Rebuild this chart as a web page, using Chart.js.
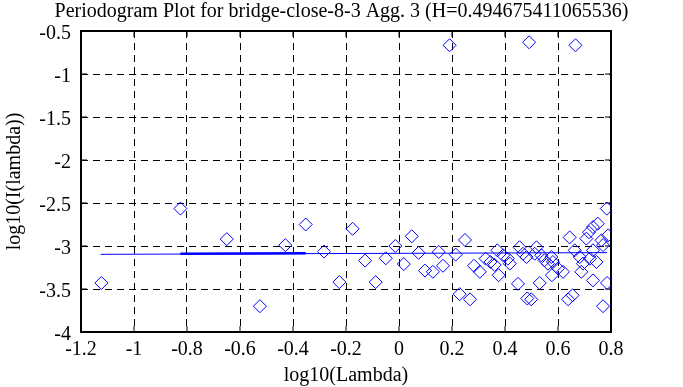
<!DOCTYPE html>
<html>
<head>
<meta charset="utf-8">
<script src="https://cdn.jsdelivr.net/npm/chart.js@4/dist/chart.umd.min.js"></script>
<style>
  body { margin: 0; background: #fff; }
  canvas { display: block; }
</style>
</head>
<body>
<canvas id="periodogramChart" width="683" height="387"></canvas>
<script>
// periodogram points
var logLambda = [-1.123, -0.825, -0.650, -0.525, -0.429, -0.352, -0.283, -0.225, -0.175, -0.128,
    -0.088, -0.050, -0.014, 0.018, 0.048, 0.074, 0.098, 0.128, 0.150, 0.166,
    0.191, 0.214, 0.229, 0.249, 0.268, 0.283, 0.305, 0.327, 0.345, 0.361,
    0.371, 0.376, 0.393, 0.411, 0.418, 0.449, 0.455, 0.468, 0.481, 0.484,
    0.491, 0.499, 0.512, 0.519, 0.531, 0.537, 0.549, 0.562, 0.575, 0.577,
    0.581, 0.600, 0.619, 0.638, 0.644, 0.655, 0.663, 0.666, 0.682, 0.688,
    0.694, 0.707, 0.717, 0.720, 0.732, 0.732, 0.732, 0.745, 0.750, 0.764,
    0.770, 0.770, 0.785, 0.784, 0.789];
var logPower = [-3.43, -2.565, -2.92, -3.70, -2.99, -2.75, -3.065, -3.42, -2.80, -3.17,
    -3.42, -3.143, -3.00, -3.21, -2.887, -3.08, -3.286, -3.30, -3.07, -3.23,
    -0.666, -3.10, -3.56, -2.93, -3.62, -3.23, -3.30, -3.147, -3.186, -3.22,
    -3.05, -3.34, -3.108, -3.147, -3.205, -3.44, -3.015, -3.09, -3.128, -3.61,
    -0.631, -3.62, -3.09, -3.015, -3.43, -3.108, -3.166, -3.205, -3.128, -3.34,
    -3.186, -3.26, -3.30, -3.62, -2.90, -3.573, -3.05, -0.666, -3.128, -3.30,
    -3.205, -2.914, -2.84, -3.147, -2.78, -3.05, -3.40, -3.186, -2.74, -2.934,
    -2.99, -3.70, -3.43, -2.565, -2.876];

// fitted line (thin over the whole range, thicker piece on the left)
var fitX = [-1.126, 0.785];
var fitY = [-3.097, -3.077];
var fitThickX = [-0.825, -0.352];
var fitThickY = [-3.090, -3.085];

var xTickValues = [-1.2, -1, -0.8, -0.6, -0.4, -0.2, 0, 0.2, 0.4, 0.6, 0.8];
var xTickLabels = ['-1.2', '-1', '-0.8', '-0.6', '-0.4', '-0.2', '0', '0.2', '0.4', '0.6', '0.8'];
var yTickValues = [-4, -3.5, -3, -2.5, -2, -1.5, -1, -0.5];
var yTickLabels = ['-4', '-3.5', '-3', '-2.5', '-2', '-1.5', '-1', '-0.5'];

var FONT = 'Liberation Serif';
var BLUE = '#0000ff';

toPoints = function (xs, ys) {
    var pts = [];
    for (var i = 0; i < xs.length; i++) {
        pts.push({x: xs[i], y: ys[i]});
    }
    return pts;
}

// frame round the plot and short inward tick marks
var framePlugin = {
    id: 'frame',
    beforeDatasetsDraw: function (chart) {
        var ctx = chart.ctx;
        var a = chart.chartArea;
        var xs = chart.scales.x;
        var ys = chart.scales.y;
        var len = 6;
        ctx.save();
        ctx.strokeStyle = '#000';
        ctx.lineWidth = 1;
        ctx.setLineDash([]);
        ctx.beginPath();
        for (var i = 0; i < xTickValues.length; i++) {
            var px = xs.getPixelForValue(xTickValues[i]);
            ctx.moveTo(px, a.bottom);
            ctx.lineTo(px, a.bottom - len);
            ctx.moveTo(px, a.top);
            ctx.lineTo(px, a.top + len);
        }
        for (var j = 0; j < yTickValues.length; j++) {
            var py = ys.getPixelForValue(yTickValues[j]);
            ctx.moveTo(a.left, py);
            ctx.lineTo(a.left + len, py);
            ctx.moveTo(a.right, py);
            ctx.lineTo(a.right - len, py);
        }
        ctx.stroke();
        ctx.lineWidth = 2;
        ctx.strokeRect(a.left, a.top, a.right - a.left, a.bottom - a.top);
        ctx.restore();
    }
};

var ctx = document.getElementById('periodogramChart');
var chart = new Chart(ctx, {
    type: 'scatter',
    data: {
        datasets: [{
            data: toPoints(logLambda, logPower),
            pointStyle: 'rectRot',
            pointRadius: 6.5,
            pointHoverRadius: 6.5,
            pointBorderWidth: 1,
            borderColor: BLUE,
            backgroundColor: 'rgba(0,0,0,0)',
            order: 2
        }, {
            type: 'line',
            data: toPoints(fitX, fitY),
            borderColor: BLUE,
            borderWidth: 1,
            pointRadius: 0,
            fill: false,
            order: 1
        }, {
            type: 'line',
            data: toPoints(fitThickX, fitThickY),
            borderColor: BLUE,
            borderWidth: 2.5,
            pointRadius: 0,
            fill: false,
            order: 1
        }]
    },
    options: {
        responsive: false,
        animation: false,
        layout: {
            padding: 0
        },
        plugins: {
            legend: {display: false},
            tooltip: {enabled: false},
            title: {
                display: true,
                text: 'Periodogram Plot for bridge-close-8-3 Agg. 3 (H=0.494675411065536)',
                color: '#000',
                font: {family: FONT, size: 20, weight: 'normal', lineHeight: 1},
                padding: {top: 2, bottom: 9}
            }
        },
        scales: {
            x: {
                type: 'linear',
                min: -1.2,
                max: 0.8,
                afterBuildTicks: function (scale) {
                    scale.ticks = xTickValues.map(function (v) { return {value: v}; });
                },
                afterFit: function (scale) {
                    scale.height = 55;
                },
                ticks: {
                    autoSkip: false,
                    maxRotation: 0,
                    padding: 6,
                    color: '#000',
                    font: {family: FONT, size: 20, lineHeight: 1.2},
                    callback: function (v, i) { return xTickLabels[i]; }
                },
                grid: {
                    color: '#000',
                    lineWidth: 1,
                    drawTicks: false
                },
                border: {display: false, dash: [7, 5]},
                title: {
                    display: true,
                    text: 'log10(Lambda)',
                    color: '#000',
                    font: {family: FONT, size: 20, lineHeight: 1},
                    padding: {top: 0, bottom: 1}
                }
            },
            y: {
                type: 'linear',
                min: -4,
                max: -0.5,
                afterBuildTicks: function (scale) {
                    scale.ticks = yTickValues.map(function (v) { return {value: v}; });
                },
                afterFit: function (scale) {
                    scale.width = 81;
                },
                ticks: {
                    autoSkip: false,
                    padding: 10,
                    labelOffset: 3,
                    color: '#000',
                    font: {family: FONT, size: 20, lineHeight: 1.2},
                    callback: function (v, i) { return yTickLabels[i]; }
                },
                grid: {
                    color: '#000',
                    lineWidth: 1,
                    drawTicks: false
                },
                border: {display: false, dash: [7, 5]},
                title: {
                    display: true,
                    text: 'log10(I(lambda))',
                    color: '#000',
                    font: {family: FONT, size: 20, lineHeight: 1},
                    padding: {top: 5, bottom: 0}
                }
            },
            // empty right axis, only keeps the blank margin on the right
            yRight: {
                type: 'linear',
                position: 'right',
                min: -4,
                max: -0.5,
                afterFit: function (scale) {
                    scale.width = 72;
                },
                ticks: {display: false},
                grid: {display: false},
                border: {display: false}
            }
        }
    },
    plugins: [framePlugin]
});
</script>
</body>
</html>
